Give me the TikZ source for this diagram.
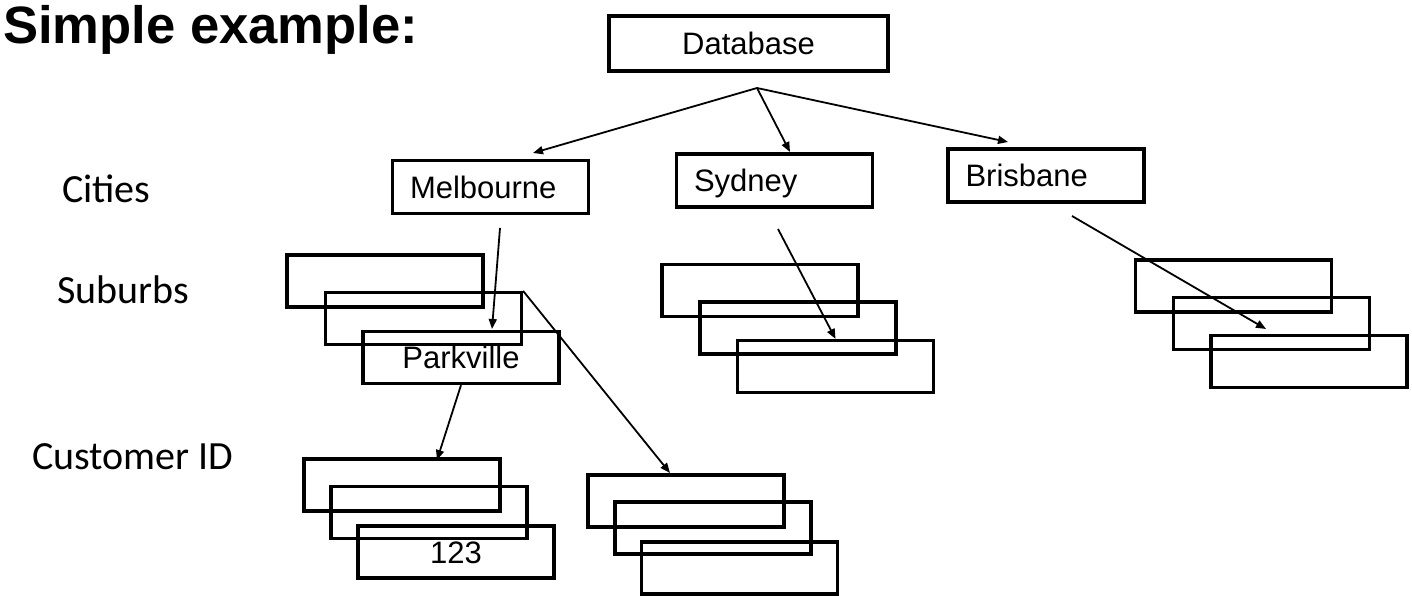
\documentclass[tikz,border=0pt]{standalone}
\usepackage{fontspec}
\setmainfont{Liberation Sans}
\newfontfamily\rowfont{Carlito}
\usetikzlibrary{arrows.meta}

\begin{document}
\begin{tikzpicture}[x=1pt, y=-1pt,
        box/.style={draw, line width=3.2pt, minimum width=196pt, minimum height=52pt,
            inner sep=0pt, font=\fontsize{31}{36}\selectfont, text height=22pt, text depth=-2pt},
        citybox/.style={box, minimum height=53pt, text width=161pt, align=left, inner xsep=17.5pt, text depth=-4pt},
        rowlabel/.style={anchor=base west, inner sep=0pt, font=\rowfont\fontsize{40}{48}\selectfont},
        arr/.style={-{Triangle[length=10pt, width=8pt]}, line width=1.8pt}]
            \useasboundingbox (0,0) rectangle (1412,596);
            % heading and row labels
            \node[anchor=base west, inner sep=0pt, font=\bfseries\fontsize{52.6}{60}\selectfont] (title) at (3,44) {Simple example:};
            \node[rowlabel] (lcities) at (62,202) {Cities};
            \node[rowlabel] (lsuburbs) at (57,303) {Suburbs};
            \node[rowlabel] (lcustomer) at (32,469) {Customer ID};
            % root
            \node[box, minimum width=279pt, minimum height=55pt, line width=4.5pt, text depth=0pt] (db) at (748.5,43.5) {Database};
            % cities
            \node[citybox] (melb) at (490.5,187) {Melbourne};
            \node[citybox] (syd) at (774.5,180.5) {Sydney};
            \node[citybox] (bris) at (1046,175.5) {Brisbane};
            % suburbs
            \node[box] (msub1) at (385,281) {};
            \node[box] (msub2) at (423.5,318.5) {};
            \node[box] (msub3) at (461,357.5) {Parkville};
            \node[box] (ssub1) at (760,290.5) {};
            \node[box] (ssub2) at (798,328) {};
            \node[box] (ssub3) at (835.5,366.5) {};
            \node[box] (bsub1) at (1233.5,286) {};
            \node[box] (bsub2) at (1271.5,323.5) {};
            \node[box] (bsub3) at (1309,361.5) {};
            % customer ids
            \node[box] (cida1) at (402,485) {};
            \node[box] (cida2) at (429,512.5) {};
            \node[box] (cida3) at (456,552) {123};
            \node[box] (cidb1) at (686,501) {};
            \node[box] (cidb2) at (713,528) {};
            \node[box] (cidb3) at (739.5,568) {};
            % free arrow ends
            \coordinate (dbfork) at (757,88);
            \coordinate (melbin) at (533,153);
            \coordinate (sydin) at (790,152);
            \coordinate (brisin) at (1008,142);
            \coordinate (melbout) at (500,228);
            \coordinate (parkin) at (492,329);
            \coordinate (cidain) at (437,460);
            \coordinate (cidbin) at (670,473);
            \coordinate (sydout) at (778,229);
            \coordinate (brisout) at (1072,216);
            \coordinate (bsubin) at (1266,329);
            % arrows
            \draw[arr] (dbfork) -- (melbin);
            \draw[arr] (dbfork) -- (sydin);
            \draw[arr] (dbfork) -- (brisin);
            \draw[arr] (melbout) -- (parkin);
            \draw[arr] (msub3.south) -- (cidain);
            \draw[arr] (msub2.north east) -- (cidbin);
            \draw[arr] (sydout) -- (ssub3.north);
            \draw[arr] (brisout) -- (bsubin);
        \end{tikzpicture}
\end{document}
